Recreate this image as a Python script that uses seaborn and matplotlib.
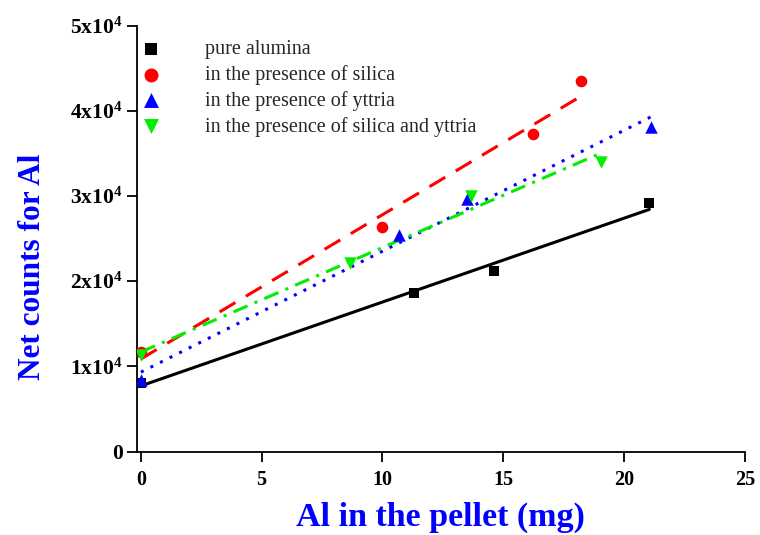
import numpy as np
import seaborn as sns
import matplotlib.pyplot as plt
from matplotlib.ticker import FuncFormatter

sns.set_style("ticks")
plt.rcParams['font.family'] = ['Liberation Serif', 'DejaVu Serif']
plt.rcParams['mathtext.fontset'] = 'custom'
plt.rcParams['mathtext.bf'] = 'Liberation Serif:bold'
plt.rcParams['mathtext.rm'] = 'Liberation Serif:bold'
plt.rcParams['mathtext.default'] = 'bf'

# data
x_pure = [0, 11.3, 14.6, 21.05]
y_pure = [8100, 18600, 21150, 29200]
x_silica = [0, 10.0, 16.25, 18.2]
y_silica = [11650, 26350, 37250, 43500]
x_yttria = [0, 10.7, 13.5, 21.1]
y_yttria = [8450, 25400, 29700, 38050]
x_both = [0, 8.65, 13.65, 19.05]
y_both = [11350, 22100, 30000, 34000]

labels = ["pure alumina", "in the presence of silica",
          "in the presence of yttria", "in the presence of silica and yttria"]

fig = plt.figure(figsize=(7.6, 5.35), dpi=100)
ax = fig.add_axes([0.180, 0.156, 0.800, 0.796])

series = [
    (x_pure, y_pure, "black", "s", 60, dict(linestyle="-")),
    (x_silica, y_silica, "red", "o", 70, dict(dashes=(6, 4))),
    (x_yttria, y_yttria, "blue", "^", 80, dict(dashes=(1, 2.5))),
    (x_both, y_both, "#00ee00", "v", 80, dict(dashes=(5, 2.5, 1, 2.5))),
]

# fitted lines first
for xs, ys, col, mk, sz, ls in series:
    sns.regplot(x=np.array(xs), y=np.array(ys), ax=ax, ci=None, scatter=False,
                color=col, line_kws=dict(lw=2.2, **ls))

# markers
for (xs, ys, col, mk, sz, ls), lab in zip(series, labels):
    sns.scatterplot(x=xs, y=ys, ax=ax, color=col, marker=mk, s=sz,
                    linewidth=0, label=lab, zorder=3)

ax.set_xlim(-0.17, 25)
ax.set_ylim(0, 50000)
ax.set_xticks([0, 5, 10, 15, 20, 25])
ax.set_yticks([0, 10000, 20000, 30000, 40000, 50000])
ax.yaxis.set_major_formatter(FuncFormatter(
    lambda v, p: "0" if v == 0 else "%dx10$^4$" % round(v / 10000)))
sns.despine(ax=ax)
for s in ["left", "bottom"]:
    ax.spines[s].set_linewidth(1.3)
    ax.spines[s].set_color("black")
ax.tick_params(direction="out", length=7, width=1.3, labelsize=14.5, colors="black")
ax.tick_params(axis="y", labelsize=15.5, pad=3)
ax.tick_params(axis="x", pad=6)
for t in ax.get_xticklabels() + ax.get_yticklabels():
    t.set_fontweight("bold")

ax.set_xlabel("Al in the pellet (mg)", fontsize=24.5, fontweight="bold", color="blue", labelpad=9)
ax.set_ylabel("Net counts for Al", fontsize=22.5, fontweight="bold", color="blue")
ax.yaxis.set_label_coords(-0.148, 0.434)

ax.legend(loc="upper left", bbox_to_anchor=(-0.02, 1.0), frameon=False, fontsize=14.5,
          handletextpad=2.1, handlelength=1.2, labelspacing=0.3, borderaxespad=0.3,
          markerscale=1.2)

fig.savefig("out.png", dpi=100)
